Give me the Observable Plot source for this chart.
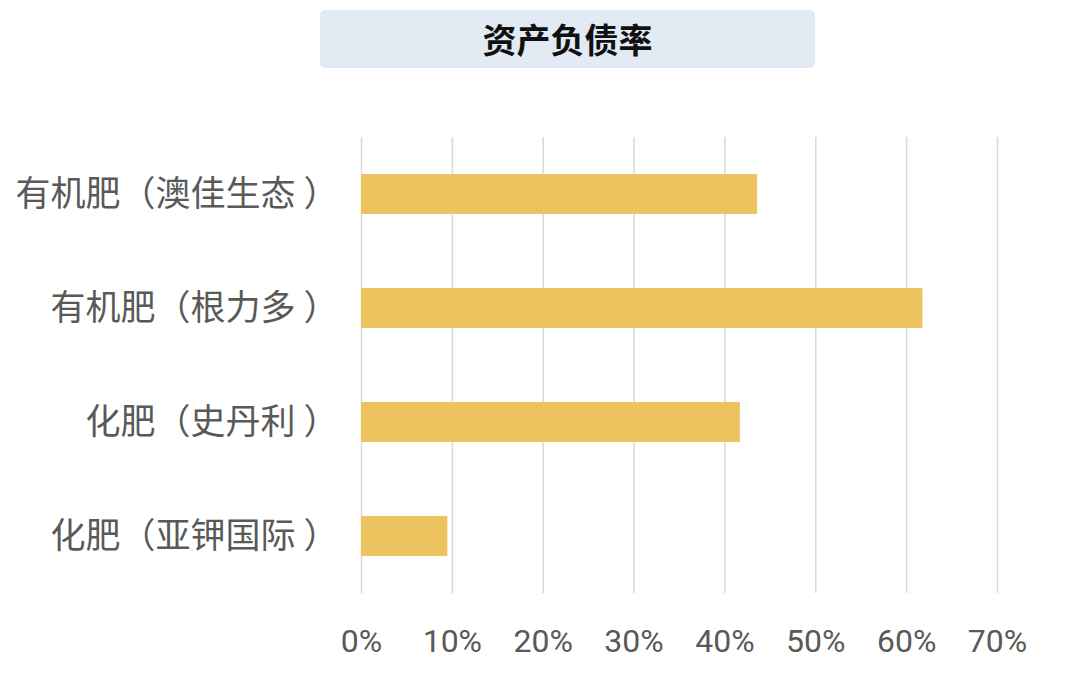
<!DOCTYPE html>
<html lang="zh-CN">
<head>
<meta charset="utf-8">
<script src="https://cdn.jsdelivr.net/npm/d3@7"></script>
<script src="https://cdn.jsdelivr.net/npm/@observablehq/plot@0.6"></script>
<style>
  html, body { margin: 0; padding: 0; background: #ffffff; }
  #wrap { position: relative; width: 1080px; height: 682px; overflow: hidden; }
  #title {
    position: absolute; left: 320px; top: 10px; width: 495px; height: 58px;
    background: #e2eaf4; border-radius: 5px;
    font-family: "Noto Sans CJK SC", sans-serif; font-weight: bold; font-size: 34px;
    color: #111111; text-align: center; line-height: 58px;
  }
  #chart { position: absolute; left: 0; top: 80px; }
</style>
</head>
<body>
<div id="wrap">
  <div id="title">资产负债率</div>
  <div id="chart"></div>
</div>
<script>
const categories = ["有机肥（澳佳生态）", "有机肥（根力多）", "化肥（史丹利）", "化肥（亚钾国际）"];
const values = [0.436, 0.618, 0.417, 0.095];
const xTicks = [0, 0.1, 0.2, 0.3, 0.4, 0.5, 0.6, 0.7];

const data = categories.map((c, i) => ({category: c, value: values[i]}));
const pct = d => Math.round(d * 100) + "%";

const chart = Plot.plot({
  width: 1080,
  height: 602,
  marginLeft: 361,
  marginRight: 83,
  marginTop: 57,
  marginBottom: 89,
  style: {background: "transparent", color: "#595959"},
  x: {domain: [0, 0.7], ticks: xTicks, tickFormat: pct},
  y: {domain: categories, paddingInner: 0.65, paddingOuter: 0.325, round: false, label: null},
  marks: [
    Plot.ruleX(xTicks, {stroke: "#d9d9d9", strokeWidth: 1.5}),
    Plot.barX(data, {x: "value", y: "category", fill: "#ecc35e"}),
    Plot.axisX({ticks: xTicks, tickFormat: pct, tickSize: 0, tickPadding: 36, label: null,
      fontSize: 32, fontFamily: "Roboto, 'Noto Sans', sans-serif", fill: "#595959"}),
    Plot.axisY({tickSize: 0, tickPadding: 23, label: null,
      fontSize: 35, fontFamily: "'Noto Sans CJK SC', sans-serif", fill: "#595959"})
  ]
});

// Add a little space before the closing bracket, as in the reference (text unchanged)
chart.querySelectorAll('g[aria-label="y-axis tick label"] text').forEach(t => {
  const s = t.textContent;
  const i = s.lastIndexOf("）");
  if (i < 0) return;
  t.textContent = "";
  const a = document.createElementNS("http://www.w3.org/2000/svg", "tspan");
  a.textContent = s.slice(0, i);
  const b = document.createElementNS("http://www.w3.org/2000/svg", "tspan");
  b.textContent = s.slice(i);
  b.setAttribute("dx", 8);
  t.appendChild(a);
  t.appendChild(b);
});
document.getElementById("chart").appendChild(chart);
</script>
</body>
</html>
